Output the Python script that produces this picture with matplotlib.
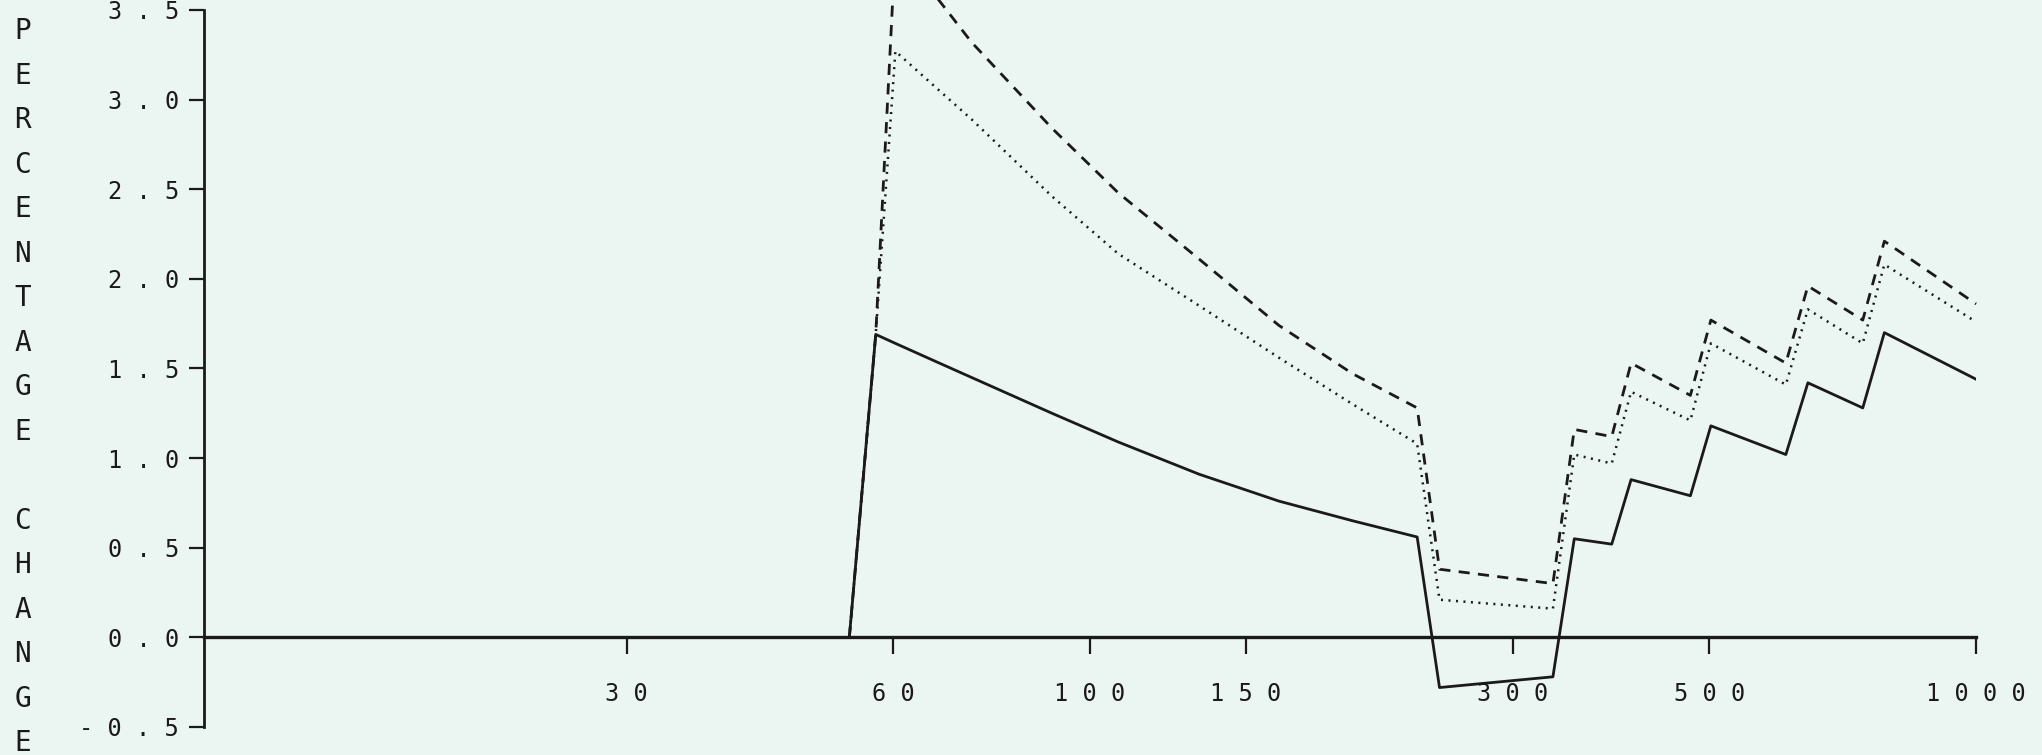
import matplotlib
matplotlib.use("Agg")
import matplotlib.pyplot as plt
from matplotlib.ticker import FixedLocator, FixedFormatter, NullLocator

# x positions (log axis) shared by all three curves
x_vals = [53.5, 57.3, 60.3, 66.9, 73.5, 90.6, 107.6, 132.8, 163.4, 198, 234,
          248, 333, 352, 388, 408, 476, 502, 610, 646, 745, 788, 1000]

solid = [0.0, 1.69, 1.64, 1.54, 1.45, 1.25, 1.09, 0.91, 0.76, 0.65, 0.56,
         -0.28, -0.22, 0.55, 0.52, 0.88, 0.79, 1.18, 1.02, 1.42, 1.28, 1.70, 1.44]

dotted = [0.0, 1.69, 3.27, 3.07, 2.89, 2.46, 2.14, 1.85, 1.56, 1.30, 1.08,
          0.21, 0.16, 1.02, 0.97, 1.37, 1.21, 1.64, 1.41, 1.83, 1.64, 2.08, 1.76]

dashed = [0.0, 1.69, 3.85, 3.58, 3.32, 2.84, 2.48, 2.11, 1.74, 1.47, 1.28,
          0.38, 0.30, 1.16, 1.12, 1.53, 1.35, 1.77, 1.53, 1.96, 1.77, 2.21, 1.86]

x_ticks = [30, 60, 100, 150, 300, 500, 1000]
x_tick_labels = ["3 0", "6 0", "1 0 0", "1 5 0", "3 0 0", "5 0 0", "1 0 0 0"]
y_ticks = [-0.5, 0.0, 0.5, 1.0, 1.5, 2.0, 2.5, 3.0, 3.5]
y_tick_labels = ["- 0 . 5", "0 . 0", "0 . 5", "1 . 0", "1 . 5",
                 "2 . 0", "2 . 5", "3 . 0", "3 . 5"]
y_label = "PERCENTAGE CHANGE"

paper = "#ebf5f2"
ink = "#1a1a1a"
plt.rcParams["font.family"] = ["DejaVu Sans Mono"]

fig = plt.figure(figsize=(20.42, 7.55), dpi=100, facecolor=paper)
ax = fig.add_axes([0.0999, 0.0371, 0.8678, 0.9497], facecolor=paper)

ax.plot(x_vals, solid, color=ink, linewidth=2.0, linestyle="-")
ax.plot(x_vals, dashed, color=ink, linewidth=2.0, linestyle=(0, (4, 3)),
        clip_on=False)
ax.plot(x_vals, dotted, color=ink, linewidth=1.8, linestyle=(0, (0.8, 2.2)))

ax.set_xscale("log")
ax.set_xlim(10, 1000)
ax.set_ylim(-0.5, 3.5)

ax.xaxis.set_major_locator(FixedLocator(x_ticks))
ax.xaxis.set_major_formatter(FixedFormatter(x_tick_labels))
ax.xaxis.set_minor_locator(NullLocator())
ax.yaxis.set_major_locator(FixedLocator(y_ticks))
ax.yaxis.set_major_formatter(FixedFormatter(y_tick_labels))

for side in ["top", "right"]:
    ax.spines[side].set_visible(False)
ax.spines["bottom"].set_position(("data", 0))
ax.spines["bottom"].set_linewidth(2.4)
ax.spines["left"].set_linewidth(2.0)
ax.spines["bottom"].set_color(ink)
ax.spines["left"].set_color(ink)

ax.tick_params(axis="x", direction="out", length=12, width=1.6, pad=20,
               labelsize=17, colors=ink)
ax.tick_params(axis="y", direction="out", length=11, width=1.6, pad=7,
               labelsize=17, colors=ink)

fig.text(23 / 2042, 0.4874, "\n".join(y_label), ha="center", va="center",
         fontsize=20, color=ink, linespacing=1.75)

fig.savefig("out.png", dpi=100, facecolor=paper)
